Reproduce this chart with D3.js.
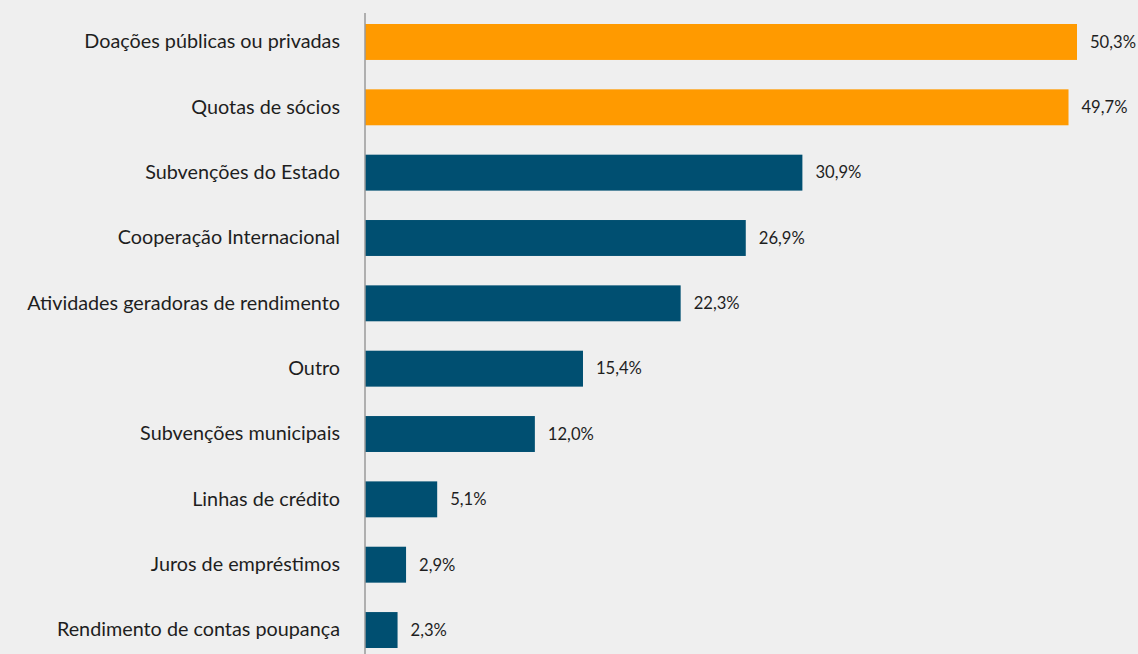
<!DOCTYPE html>
<html>
<head>
<meta charset="utf-8">
<script src="https://cdn.jsdelivr.net/npm/d3@7"></script>
<style>
  html, body { margin: 0; padding: 0; background: #efefef; }
  svg { display: block; }
  text { font-family: Lato, "Open Sans", sans-serif; fill: #1e1e1e; }
</style>
</head>
<body>
<svg id="chart" width="1138" height="654"></svg>
<script>
// Funding sources (share of organisations, %)
const categories = [
  "Doações públicas ou privadas",
  "Quotas de sócios",
  "Subvenções do Estado",
  "Cooperação Internacional",
  "Atividades geradoras de rendimento",
  "Outro",
  "Subvenções municipais",
  "Linhas de crédito",
  "Juros de empréstimos",
  "Rendimento de contas poupança"
];
const values = [50.3, 49.7, 30.9, 26.9, 22.3, 15.4, 12.0, 5.1, 2.9, 2.3];
const highlighted = ["Doações públicas ou privadas", "Quotas de sócios"];

const svg = d3.select("#chart");
const x0 = 365;

const x = d3.scaleLinear().domain([0, 50.3]).range([x0, 1077]);
const y = d3.scaleBand()
  .domain(categories)
  .range([9.3, 662.7])
  .paddingInner(0.45)
  .paddingOuter(0.225);

const fmt = v => d3.format(".1f")(v).replace(".", ",") + "%";

// bars
svg.append("g").selectAll("rect")
  .data(categories)
  .join("rect")
  .attr("x", x(0))
  .attr("y", d => y(d))
  .attr("width", (d, i) => x(values[i]) - x(0))
  .attr("height", y.bandwidth())
  .attr("fill", d => highlighted.includes(d) ? "#ff9a00" : "#004f71");

// category axis
const yAxis = d3.axisLeft(y).tickSize(0).tickPadding(25);
const gy = svg.append("g").attr("transform", `translate(${x0},0)`).call(yAxis);
gy.select(".domain").remove();
gy.selectAll("text")
  .style("font-size", "19.8px")
  .style("font-family", "Lato, 'Open Sans', sans-serif")
  .attr("fill", "#1e1e1e");

// vertical baseline
svg.append("line")
  .attr("x1", x0).attr("x2", x0)
  .attr("y1", 13).attr("y2", 654)
  .attr("stroke", "#9a9a9a")
  .attr("stroke-width", 1.5);

// value labels
svg.append("g").selectAll("text")
  .data(categories)
  .join("text")
  .attr("x", (d, i) => x(values[i]) + 13)
  .attr("y", d => y(d) + y.bandwidth() / 2)
  .attr("dy", "0.35em")
  .style("font-size", "16.6px")
  .text((d, i) => fmt(values[i]));
</script>
</body>
</html>
